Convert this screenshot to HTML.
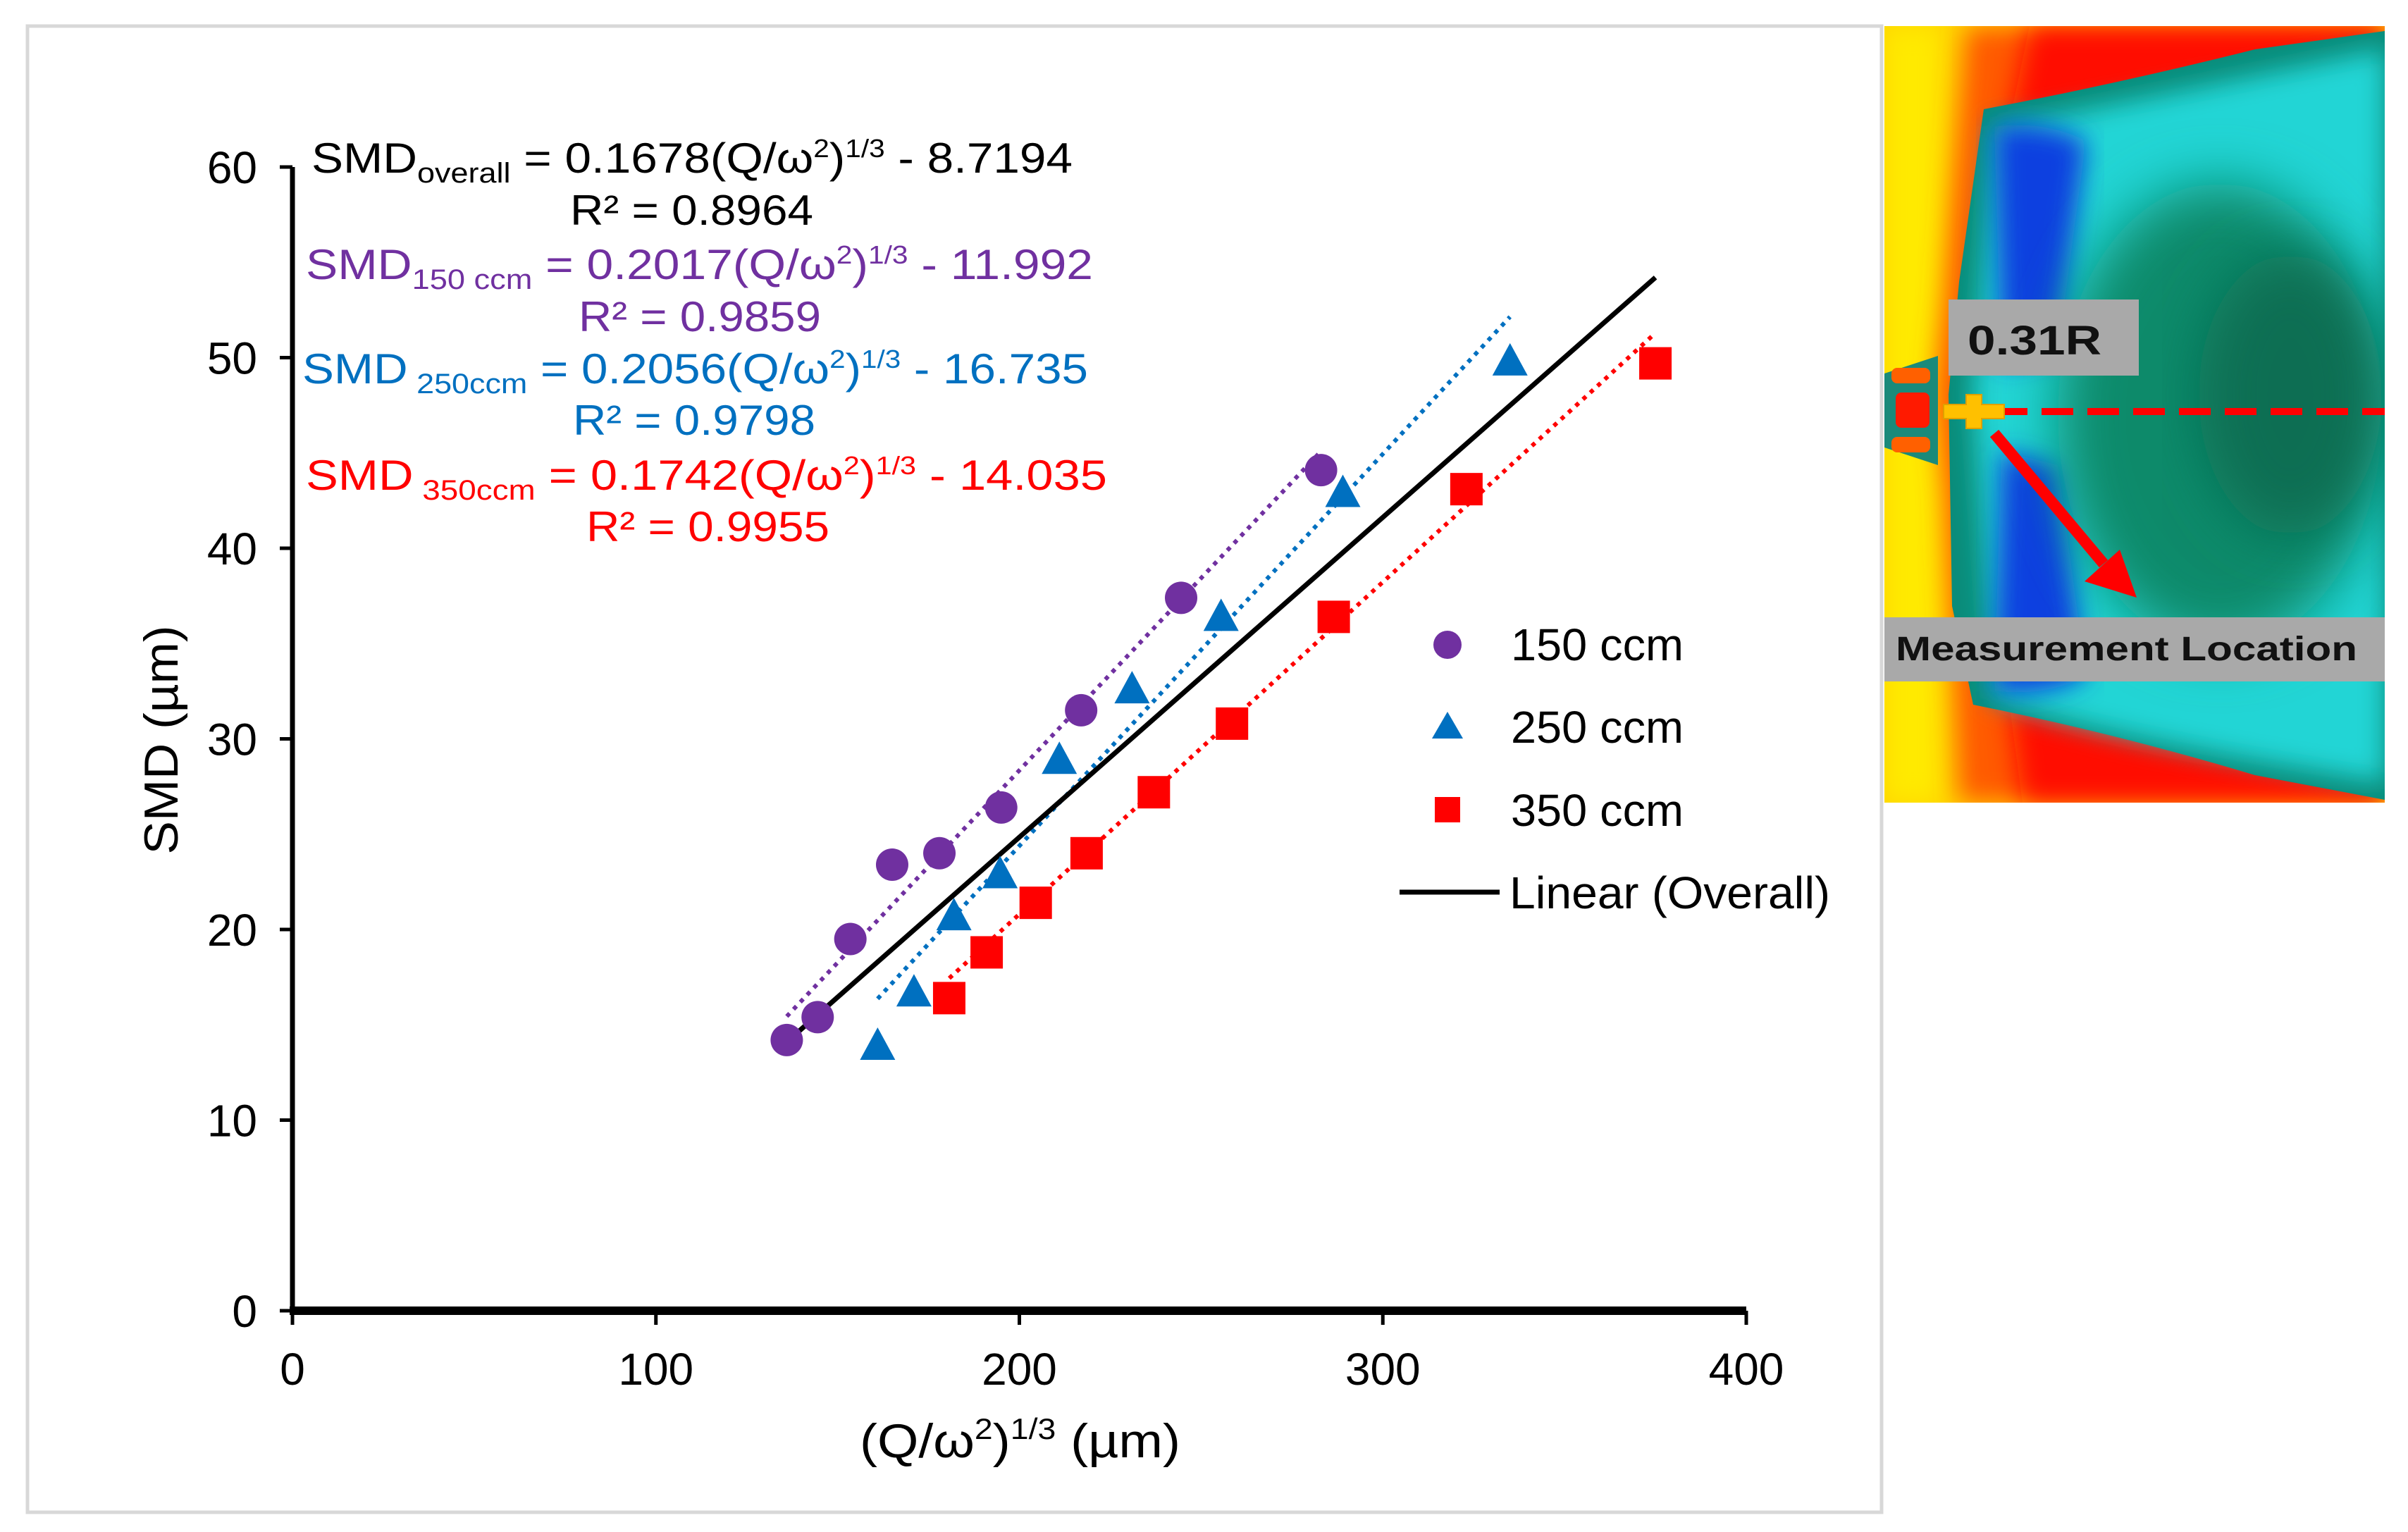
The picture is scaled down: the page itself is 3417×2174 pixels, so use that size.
<!DOCTYPE html>
<html><head><meta charset="utf-8">
<style>
html,body{margin:0;padding:0;background:#fff;}
svg{display:block;font-family:"Liberation Sans",Arial,sans-serif;}
</style></head>
<body>
<svg id="fig" width="3417" height="2174" viewBox="0 0 3417 2174">
<defs>
 <filter id="blur" x="-20%" y="-20%" width="140%" height="140%"><feGaussianBlur stdDeviation="18"/></filter>
 <filter id="blur2" x="-20%" y="-20%" width="140%" height="140%"><feGaussianBlur stdDeviation="40"/></filter>
 <clipPath id="imgclip"><rect x="2674" y="37" width="710" height="1102"/></clipPath>
</defs>
<rect x="39" y="37" width="2631" height="2109" fill="#fff" stroke="#d8d8d8" stroke-width="5"/>

<g id="plot"></g>

<g font-size="60">
 <text x="442" y="245" textLength="1080" lengthAdjust="spacingAndGlyphs" fill="#000">SMD<tspan font-size="40" dy="14">overall</tspan><tspan dy="-14"> = 0.1678(Q/ω</tspan><tspan font-size="36" dy="-22">2</tspan><tspan dy="22">)</tspan><tspan font-size="36" dy="-22">1/3</tspan><tspan dy="22"> - 8.7194</tspan></text>
 <text x="809" y="319" textLength="345" lengthAdjust="spacingAndGlyphs" fill="#000">R² = 0.8964</text>
 <text x="434" y="396" textLength="1117" lengthAdjust="spacingAndGlyphs" fill="#7030a0">SMD<tspan font-size="40" dy="14">150 ccm</tspan><tspan dy="-14"> = 0.2017(Q/ω</tspan><tspan font-size="36" dy="-22">2</tspan><tspan dy="22">)</tspan><tspan font-size="36" dy="-22">1/3</tspan><tspan dy="22"> - 11.992</tspan></text>
 <text x="821" y="470" textLength="344" lengthAdjust="spacingAndGlyphs" fill="#7030a0">R² = 0.9859</text>
 <text x="429" y="544" textLength="1115" lengthAdjust="spacingAndGlyphs" fill="#0070c0">SMD<tspan font-size="40" dy="14"> 250ccm</tspan><tspan dy="-14"> = 0.2056(Q/ω</tspan><tspan font-size="36" dy="-22">2</tspan><tspan dy="22">)</tspan><tspan font-size="36" dy="-22">1/3</tspan><tspan dy="22"> - 16.735</tspan></text>
 <text x="813" y="617" textLength="344" lengthAdjust="spacingAndGlyphs" fill="#0070c0">R² = 0.9798</text>
 <text x="434" y="695" textLength="1137" lengthAdjust="spacingAndGlyphs" fill="#ff0000">SMD<tspan font-size="40" dy="14"> 350ccm</tspan><tspan dy="-14">  = 0.1742(Q/ω</tspan><tspan font-size="36" dy="-22">2</tspan><tspan dy="22">)</tspan><tspan font-size="36" dy="-22">1/3</tspan><tspan dy="22"> - 14.035</tspan></text>
 <text x="832" y="768" textLength="345" lengthAdjust="spacingAndGlyphs" fill="#ff0000">R² = 0.9955</text>
</g>

<g font-size="64" fill="#000">
 <circle cx="2054" cy="915" r="20" fill="#7030a0"/>
 <text x="2144" y="937" textLength="245" lengthAdjust="spacingAndGlyphs">150 ccm</text>
 <polygon points="2054,1010 2076,1048 2032,1048" fill="#0070c0"/>
 <text x="2144" y="1054" textLength="245" lengthAdjust="spacingAndGlyphs">250 ccm</text>
 <rect x="2036" y="1131" width="36" height="36" fill="#ff0000"/>
 <text x="2144" y="1172" textLength="245" lengthAdjust="spacingAndGlyphs">350 ccm</text>
 <line x1="1986" y1="1266" x2="2128" y2="1266" stroke="#000" stroke-width="7"/>
 <text x="2142" y="1289" textLength="455" lengthAdjust="spacingAndGlyphs">Linear (Overall)</text>
</g>

<text transform="translate(252,1050) rotate(-90)" text-anchor="middle" font-size="68" fill="#000" textLength="325" lengthAdjust="spacingAndGlyphs">SMD (µm)</text>
<text x="1220" y="2068" font-size="68" fill="#000" textLength="455" lengthAdjust="spacingAndGlyphs">(Q/ω<tspan font-size="42" dy="-26">2</tspan><tspan dy="26">)</tspan><tspan font-size="42" dy="-26">1/3</tspan><tspan dy="26">  (µm)</tspan></text>

<g clip-path="url(#imgclip)">
 <rect x="2674" y="37" width="710" height="1102" fill="#ffd500"/>
 <rect x="2674" y="37" width="80" height="1102" fill="#ffea00" filter="url(#blur)"/>
 <path d="M2790,37 L3384,37 L3384,1139 L2780,1139 L2760,700 L2745,560 L2760,420 Z" fill="#ff5a00" filter="url(#blur)"/>
 <path d="M2880,37 L3384,37 L3384,1139 L2870,1139 L2825,800 L2805,560 L2825,300 Z" fill="#ff1000" filter="url(#blur)"/>
 <path d="M2815,155 Q3000,120 3200,70 L3384,44 L3384,1135 L3200,1100 Q3000,1040 2800,1000 L2770,860 L2765,560 L2780,400 Z" fill="#0a8c7a"/>
 <path d="M2830,180 Q3000,150 3384,70 L3384,1110 Q3000,1050 2830,990 L2800,560 Z" fill="#22d5d5" filter="url(#blur)"/>
 <path d="M2830,180 Q2900,170 2960,200 L2920,500 L2840,520 Z" fill="#1040e0" filter="url(#blur)"/>
 <path d="M2830,980 Q2900,990 2960,960 L2920,660 L2840,640 Z" fill="#1040e0" filter="url(#blur)"/>
 <ellipse cx="3150" cy="590" rx="230" ry="330" fill="#0b8a6a" filter="url(#blur2)"/>
 <ellipse cx="3250" cy="560" rx="130" ry="200" fill="#0a6e52" filter="url(#blur2)"/>
 <path d="M2674,530 L2750,505 L2750,660 L2674,635 Z" fill="#1a8a7a"/>
 <rect x="2684" y="522" width="55" height="22" rx="8" fill="#ff6000"/>
 <rect x="2690" y="557" width="48" height="50" rx="8" fill="#ff1a00"/>
 <rect x="2684" y="620" width="55" height="22" rx="8" fill="#ff6000"/>
 <rect x="2765" y="425" width="270" height="108" fill="#a9a9a9"/>
 <text x="2792" y="503" font-size="58" font-weight="bold" fill="#111" textLength="190" lengthAdjust="spacingAndGlyphs">0.31R</text>
 <line x1="2832" y1="584" x2="3384" y2="584" stroke="#ff0000" stroke-width="10" stroke-dasharray="45,20"/>
 <path d="M2790,560 h22 v14 h32 v20 h-32 v14 h-22 v-14 h-32 v-20 h32 z" fill="#ffc000" stroke="#e0a000" stroke-width="2"/>
 <line x1="2830" y1="615" x2="2985" y2="800" stroke="#ff0000" stroke-width="16"/>
 <polygon points="3032,848 2958,825 3008,780" fill="#ff0000"/>
 <rect x="2674" y="876" width="710" height="91" fill="#a9a9a9"/>
 <text x="2690" y="937" font-size="48" font-weight="bold" fill="#111" textLength="655" lengthAdjust="spacingAndGlyphs">Measurement Location</text>
</g>
</svg>
<script>
const xTicks = [0, 100, 200, 300, 400];
const yTicks = [0, 10, 20, 30, 40, 50, 60];
const x150 = [136, 144.5, 153.5, 165, 178, 195, 217, 244.5, 283];
const y150 = [14.2, 15.4, 19.5, 23.4, 24, 26.4, 31.5, 37.4, 44.1];
const x250 = [161, 171, 182, 194.7, 211, 231, 255.5, 289, 335];
const y250 = [13.9, 16.7, 20.7, 22.9, 28.9, 32.6, 36.4, 42.9, 49.8];
const x350 = [180.7, 191, 204.5, 218.5, 237, 258.5, 286.5, 323, 375];
const y350 = [16.4, 18.8, 21.4, 24, 27.2, 30.8, 36.4, 43.1, 49.7];
const fitOverall = [0.1678, -8.7194];
const fit150 = [0.2017, -11.992];
const fit250 = [0.2056, -16.735];
const fit350 = [0.1742, -14.035];

const X0 = 415, X1 = 2478, Y0 = 1860, Y1 = 237;
const sx = v => X0 + (v - 0) / 400 * (X1 - X0);
const sy = v => Y0 - (v - 0) / 60 * (Y0 - Y1);
const NS = 'http://www.w3.org/2000/svg';
const plot = document.getElementById('plot');
function mk(tag, attrs) { const e = document.createElementNS(NS, tag); for (const k in attrs) e.setAttribute(k, attrs[k]); plot.appendChild(e); return e; }

let ax = mk('line', {x1: X0, y1: Y1, x2: X0, y2: Y0, stroke: '#000', 'stroke-width': 7});


ax = mk('line', {x1: X0 - 4, y1: Y0, x2: X1, y2: Y0, stroke: '#000', 'stroke-width': 12});


xTicks.forEach(t => {
  const l = mk('line', {x1: sx(t), y1: Y0, x2: sx(t), y2: Y0 + 20, stroke: '#000', 'stroke-width': 5});
  
  
  const tx = mk('text', {x: sx(t), y: Y0 + 105, 'text-anchor': 'middle', 'font-size': 64, fill: '#000'});
  tx.textContent = t;
  
  
});
yTicks.forEach(t => {
  const l = mk('line', {x1: X0 - 18, y1: sy(t), x2: X0, y2: sy(t), stroke: '#000', 'stroke-width': 5});
  
  
  const tx = mk('text', {x: X0 - 50, y: sy(t) + 23, 'text-anchor': 'end', 'font-size': 64, fill: '#000'});
  tx.textContent = t;
  
  
});

function fitLine(fit, xa, xb, color, dash, w, name) {
  const l = mk('line', {x1: sx(xa), y1: sy(fit[0]*xa + fit[1]), x2: sx(xb), y2: sy(fit[0]*xb + fit[1]), stroke: color, 'stroke-width': w});
  if (dash) l.setAttribute('stroke-dasharray', dash);
  
  
}
fitLine(fit150, Math.min(...x150), Math.max(...x150), '#7030a0', '6,8', 6, 'trendline-150');
fitLine(fit250, Math.min(...x250), Math.max(...x250), '#0070c0', '6,8', 6, 'trendline-250');
fitLine(fit350, Math.min(...x350), Math.max(...x350), '#ff0000', '6,8', 6, 'trendline-350');
const allX = x150.concat(x250, x350);
fitLine(fitOverall, Math.min(...allX), Math.max(...allX), '#000', null, 7, 'trendline-overall');

x150.forEach((v, i) => {
  const c = mk('circle', {cx: sx(v), cy: sy(y150[i]), r: 23, fill: '#7030a0'});
  
  
});
x250.forEach((v, i) => {
  const cx = sx(v), cy = sy(y250[i]);
  const p = mk('polygon', {points: `${cx},${cy-26} ${cx+25},${cy+20} ${cx-25},${cy+20}`, fill: '#0070c0'});
  
  
});
x350.forEach((v, i) => {
  const r = mk('rect', {x: sx(v) - 23, y: sy(y350[i]) - 23, width: 46, height: 46, fill: '#ff0000'});
  
  
});
</script>
</body></html>
